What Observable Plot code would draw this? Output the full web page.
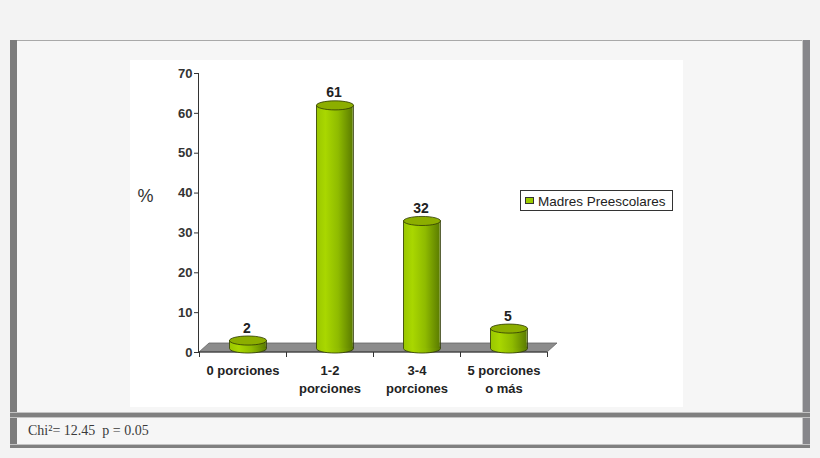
<!DOCTYPE html>
<html>
<head>
<meta charset="utf-8">
<script src="https://cdn.jsdelivr.net/npm/d3@7"></script>
<script src="https://cdn.jsdelivr.net/npm/@observablehq/plot@0.6"></script>
<style>
  html, body { margin: 0; padding: 0; background: #f3f3f3; }
  #page { position: relative; width: 820px; height: 458px; overflow: hidden; background: #f3f3f3; }
  .abs { position: absolute; }
  #inner { left: 17px; top: 41px; width: 786px; height: 404px; background: #f6f6f6; }
  #topline { left: 10px; top: 40px; width: 793px; height: 1px; background: #a9a9a9; }
  #leftbar { left: 10px; top: 40px; width: 7px; height: 408px; background: #7c7c7c; }
  #rightlight { left: 802px; top: 40px; width: 1px; height: 405px; background: #c8c8c8; }
  #rightbar { left: 803px; top: 40px; width: 7px; height: 408px; background: #86868a; }
  #seplightA { left: 10px; top: 412px; width: 800px; height: 1px; background: #c4c4c4; }
  #sep { left: 10px; top: 413px; width: 800px; height: 4px; background: #808080; }
  #seplightB { left: 10px; top: 417px; width: 800px; height: 1px; background: #c4c4c4; }
  #botlight { left: 10px; top: 444px; width: 800px; height: 1px; background: #c4c4c4; }
  #bot { left: 10px; top: 445px; width: 800px; height: 3px; background: #808080; }
  #chart { left: 130px; top: 60px; width: 553px; height: 347px; background: #ffffff; }
  #caption { left: 28px; top: 424px; font-family: "Liberation Serif", "Times New Roman", serif; font-size: 14px; line-height: 14px; color: #3a3a3a; white-space: pre; }
  #legend { left: 520px; top: 190px; width: 153px; height: 21px; box-sizing: border-box; border: 1px solid #333; background: #fff; }
  #swatch { position: absolute; left: 4px; top: 6px; width: 9px; height: 7px; box-sizing: border-box; background: #9ccb00; border: 1px solid #333; }
  #legtext { position: absolute; left: 17px; top: 3.6px; font-family: "Liberation Sans", Arial, sans-serif; font-size: 13.5px; line-height: 13.5px; color: #222; white-space: nowrap; }
</style>
</head>
<body>
<div id="page">
  <div class="abs" id="inner"></div>
  <div class="abs" id="topline"></div>
  <div class="abs" id="leftbar"></div>
  <div class="abs" id="rightlight"></div>
  <div class="abs" id="rightbar"></div>
  <div class="abs" id="seplightA"></div>
  <div class="abs" id="sep"></div>
  <div class="abs" id="seplightB"></div>
  <div class="abs" id="botlight"></div>
  <div class="abs" id="bot"></div>
  <div class="abs" id="chart"></div>
  <div class="abs" id="legend"><div id="swatch"></div><div id="legtext"></div></div>
  <div class="abs" id="caption"></div>
</div>
<script>
// ---- data ----
const categories = ["0 porciones", "1-2 porciones", "3-4 porciones", "5 porciones o más"];
const tickLabels = ["0 porciones", "1-2\nporciones", "3-4\nporciones", "5 porciones\no más"];
const values = [2, 61, 32, 5];
const yTicks = [0, 10, 20, 30, 40, 50, 60, 70];
const seriesName = "Madres Preescolares";
const yLabel = "%";
const captionText = "Chi\u00b2= 12.45  p = 0.05";

const data = categories.map((c, i) => ({cat: c, value: values[i], label: tickLabels[i]}));

// 3D depth offsets (pixels)
const DEPTH_X = 10, DEPTH_Y = 9;
const BAR_DX = 5, BAR_DY = -4;
const R = 18.5;

// ellipse symbol for cylinder caps
const ellipse = {
  draw(ctx, size) {
    const rx = Math.sqrt(size / Math.PI), ry = rx * 0.245, k = 0.5523;
    ctx.moveTo(-rx, 0);
    ctx.bezierCurveTo(-rx, -ry * k, -rx * k, -ry, 0, -ry);
    ctx.bezierCurveTo(rx * k, -ry, rx, -ry * k, rx, 0);
    ctx.bezierCurveTo(rx, ry * k, rx * k, ry, 0, ry);
    ctx.bezierCurveTo(-rx * k, ry, -rx, ry * k, -rx, 0);
    ctx.closePath();
  }
};

// floor + category axis drawn from the plot's scales
function floorMark(index, scales) {
  const x = scales.x, y = scales.y;
  const dom = x.domain();
  const bw = x.bandwidth();
  const x0 = x(dom[0]), x1 = x(dom[dom.length - 1]) + bw;
  const y0 = y(0);
  const g = d3.create("svg:g");
  g.append("path")
    .attr("d", `M${x0},${y0}L${x1},${y0}L${x1 + DEPTH_X},${y0 - DEPTH_Y}L${x0 + DEPTH_X},${y0 - DEPTH_Y}Z`)
    .attr("fill", "#8c8c8c").attr("stroke", "#666").attr("stroke-width", 0.8);
  g.append("line").attr("x1", x0).attr("x2", x1).attr("y1", y0).attr("y2", y0)
    .attr("stroke", "#333").attr("stroke-width", 1);
  for (let i = 0; i <= dom.length; i++) {
    const xx = Math.round(x0 + i * bw) + 0.5;
    g.append("line").attr("x1", xx).attr("x2", xx).attr("y1", y0).attr("y2", y0 + 5)
      .attr("stroke", "#333").attr("stroke-width", 1);
  }
  return g.node();
}

const plot = Plot.plot({
  width: 553,
  height: 347,
  marginLeft: 68,
  marginRight: 135,
  marginTop: 13,
  marginBottom: 55,
  style: {
    background: "white",
    fontFamily: "'Liberation Sans', Arial, sans-serif",
    fontSize: "12px",
    fontWeight: "bold",
    color: "#333",
    overflow: "visible"
  },
  x: {type: "band", domain: categories, padding: 0, axis: null},
  y: {domain: [0, 70], ticks: yTicks, tickSize: 4, tickPadding: 2, tickFormat: () => "", line: true, label: null},
  marks: [
    floorMark,
    Plot.text(yTicks, {y: d => d, text: d => String(d), frameAnchor: "left", dx: -6,
      textAnchor: "end", fontSize: 13, fill: "#333"}),
    Plot.dot(data, {x: "cat", y: () => 0, symbol: ellipse, r: R, dx: BAR_DX, dy: BAR_DY,
      fill: "url(#cylGrad)", stroke: "#2f3a05", strokeWidth: 0.8}),
    Plot.barY(data, {x: "cat", y: "value", dx: BAR_DX, dy: BAR_DY,
      insetLeft: 25.25, insetRight: 25.25, fill: "url(#cylGrad)"}),
    Plot.ruleX(data, {x: "cat", y1: () => 0, y2: "value", dx: BAR_DX - R, dy: BAR_DY, stroke: "#2f3a05", strokeWidth: 0.8}),
    Plot.ruleX(data, {x: "cat", y1: () => 0, y2: "value", dx: BAR_DX + R, dy: BAR_DY, stroke: "#2f3a05", strokeWidth: 0.8}),
    Plot.dot(data, {x: "cat", y: "value", symbol: ellipse, r: R, dx: BAR_DX, dy: BAR_DY,
      fill: "#8cae00", stroke: "#2f3a05", strokeWidth: 0.8}),
    Plot.text(data, {x: "cat", y: "value", text: d => String(d.value), dx: 4, dy: -12,
      lineAnchor: "bottom", fontSize: 14, fill: "#222"}),
    Plot.text(data, {x: "cat", text: "label", frameAnchor: "bottom", lineAnchor: "top",
      dy: 10, fontSize: 13, lineHeight: 1.38, fill: "#222"}),
    Plot.text([yLabel], {text: d => d, frameAnchor: "left", dx: -53, dy: -17,
      fontSize: 18, fontWeight: "normal", textAnchor: "middle", fill: "#333"})
  ]
});

// gradient definitions for the cylinder shading
const defs = d3.select(plot).insert("defs", ":first-child");
const grad = defs.append("linearGradient").attr("id", "cylGrad")
  .attr("x1", "0").attr("x2", "1").attr("y1", "0").attr("y2", "0");
[[0, "#99c600"], [0.25, "#a9d700"], [0.6, "#8fbb00"], [1, "#5b7c00"]].forEach(([o, c]) =>
  grad.append("stop").attr("offset", o).attr("stop-color", c));

document.getElementById("chart").appendChild(plot);
document.getElementById("legtext").textContent = seriesName;
document.getElementById("caption").textContent = captionText;
</script>
</body>
</html>
